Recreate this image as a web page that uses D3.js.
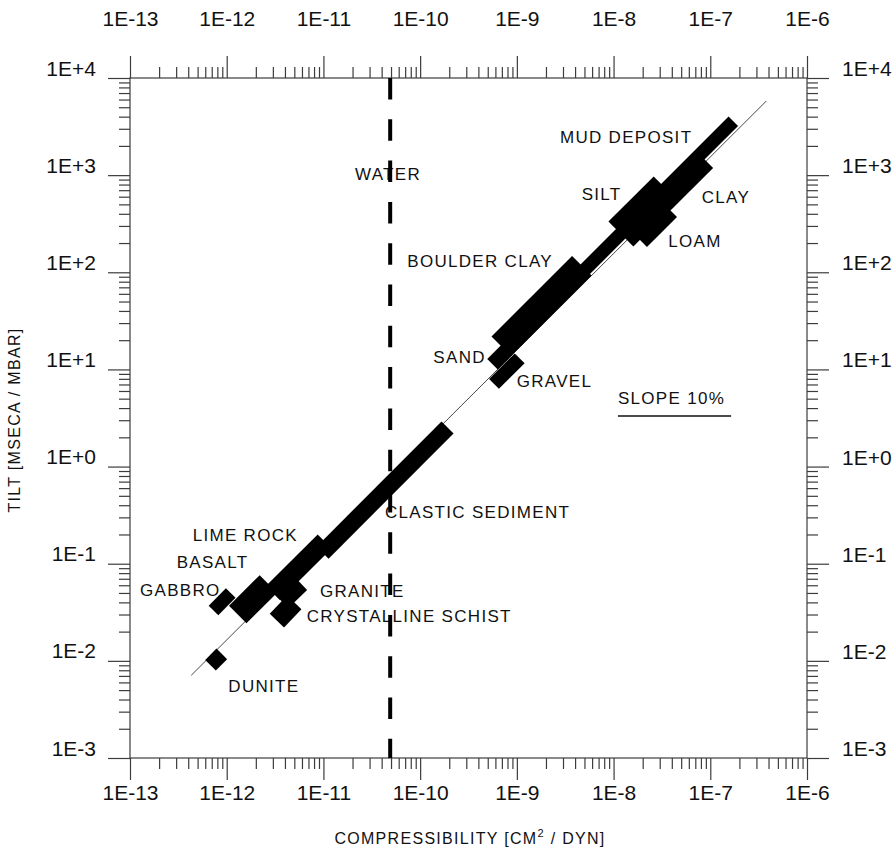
<!DOCTYPE html>
<html>
<head>
<meta charset="utf-8">
<script src="https://cdn.jsdelivr.net/npm/d3@7"></script>
<style>
  body { margin: 0; background: #fff; }
  text { font-family: "Liberation Sans", Arial, sans-serif; fill: #111; }
</style>
</head>
<body>
<div class="canvas"></div>
<script>
// bands: material, compressibility range (cm2/dyn) and tilt range (mseca/mbar) at both ends
const materials = ['DUNITE', 'GABBRO', 'BASALT', 'LIME ROCK', 'GRANITE', 'CRYSTALLINE SCHIST',
  'CLASTIC SEDIMENT', 'GRAVEL', 'SAND', 'BOULDER CLAY', 'MUD DEPOSIT', 'SILT', 'CLAY', 'LOAM'];
const compLow  = [6.8e-13, 7.3e-13, 1.3e-12, 3.0e-12, 3.7e-12, 3.3e-12, 9.8e-12, 5.8e-10, 5.6e-10, 6.9e-10, 1.28e-9, 1.19e-8, 2.0e-8, 1.81e-8];
const compHigh = [8.9e-13, 1.1e-12, 2.7e-12, 1.03e-11, 5.8e-12, 5.0e-12, 1.92e-10, 1.07e-9, 8.0e-10, 4.7e-9, 1.73e-7, 3.5e-8, 8.9e-8, 3.7e-8];
const tiltLow  = [9.0e-3, 3.3e-2, 3.0e-2, 5.0e-2, 4.1e-2, 2.6e-2, 0.130, 7.1, 11.3, 17.3, 27.2, 248, 324, 223];
const tiltHigh = [1.18e-2, 5.0e-2, 6.2e-2, 0.169, 6.3e-2, 4.0e-2, 2.53, 13.0, 16.1, 117, 3590, 720, 1420, 454];

// thin reference line (tilt proportional to compressibility)
const refComp = [4.3e-13, 3.8e-7];
const refTilt = [7.1e-3, 5.8e3];

// water compressibility (dashed line)
const waterComp = 4.9e-11;

const xTickLabels = ['1E-13', '1E-12', '1E-11', '1E-10', '1E-9', '1E-8', '1E-7', '1E-6'];
const yTickLabels = ['1E-3', '1E-2', '1E-1', '1E+0', '1E+1', '1E+2', '1E+3', '1E+4'];

// ---- layout / style ----
const W = 895, H = 852;
const L = 130, R = 807, T = 78, B = 758;

// band thickness in px
const bandWidth = {
  'DUNITE': 15, 'GABBRO': 13.5, 'BASALT': 24.7, 'LIME ROCK': 19.8, 'GRANITE': 19,
  'CRYSTALLINE SCHIST': 19.8, 'CLASTIC SEDIMENT': 17, 'GRAVEL': 14, 'SAND': 14.8,
  'BOULDER CLAY': 27.6, 'MUD DEPOSIT': 13.4, 'SILT': 35.4, 'CLAY': 21.9, 'LOAM': 24
};

// label anchors (left edge, baseline) in data units
const labelAnchor = {
  'WATER': [2.12e-11, 891],
  'MUD DEPOSIT': [2.79e-9, 2127],
  'SILT': [4.68e-9, 555],
  'CLAY': [8.15e-8, 513],
  'LOAM': [3.68e-8, 183],
  'BOULDER CLAY': [7.36e-11, 114],
  'SAND': [1.37e-10, 11.6],
  'GRAVEL': [9.96e-10, 6.64],
  'CLASTIC SEDIMENT': [4.33e-11, 0.2935],
  'LIME ROCK': [4.45e-13, 0.1725],
  'BASALT': [3.04e-13, 0.0897],
  'GABBRO': [1.27e-13, 0.0465],
  'GRANITE': [9.21e-12, 0.0451],
  'CRYSTALLINE SCHIST': [6.71e-12, 0.0253],
  'DUNITE': [1.04e-12, 4.81e-3],
  'SLOPE 10%': [1.11e-8, 4.41]
};

const axisColor = '#3c3c3c';

const svg = d3.select('.canvas')
  .append('svg')
  .attr('width', W)
  .attr('height', H);

const x = d3.scaleLog().domain([1e-13, 1e-6]).range([L, R]);
const y = d3.scaleLog().domain([1e-3, 1e4]).range([B, T]);

const xMajor = d3.range(-13, -5).map(e => +('1e' + e));
const yMajor = d3.range(-3, 5).map(e => +('1e' + e));
const minorsOf = (lo, hi) => {
  const out = [];
  for (let e = lo; e < hi; e++) for (let m = 2; m <= 9; m++) out.push(+(m + 'e' + e));
  return out;
};
const xMinor = minorsOf(-13, -6);
const yMinor = minorsOf(-3, 4);

// draws one side: minor ticks and major ticks with labels
function side(gen, scale, majors, minors, labels, tf, textPos) {
  const gMin = svg.append('g').attr('transform', tf)
    .call(gen(scale).tickValues(minors).tickSize(11).tickFormat(''));
  const gMaj = svg.append('g').attr('transform', tf)
    .call(gen(scale).tickValues(majors).tickSize(22).tickFormat((d, i) => labels[i]));
  [gMin, gMaj].forEach(g => {
    g.select('.domain').remove();
    g.selectAll('line').attr('stroke', axisColor).attr('stroke-width', 1.2);
  });
  gMaj.selectAll('text')
    .attr('font-size', 21)
    .attr('fill', '#111')
    .attr('font-family', '"Liberation Sans", Arial, sans-serif')
    .attr('dy', 0)
    .attr('x', textPos[0])
    .attr('y', textPos[1]);
}

side(d3.axisBottom, x, xMajor, xMinor, xTickLabels, `translate(0,${B})`, [0, 42]);
side(d3.axisTop, x, xMajor, xMinor, xTickLabels, `translate(0,${T})`, [0, -52]);
side(d3.axisLeft, y, yMajor, yMinor, yTickLabels, `translate(${L},0)`, [-34, -3]);
side(d3.axisRight, y, yMajor, yMinor, yTickLabels, `translate(${R},0)`, [35, -2.5]);

// frame
svg.append('rect')
  .attr('x', L).attr('y', T)
  .attr('width', R - L).attr('height', B - T)
  .attr('fill', 'none')
  .attr('stroke', axisColor)
  .attr('stroke-width', 1.2);

// reference line
svg.append('line')
  .attr('x1', x(refComp[0])).attr('y1', y(refTilt[0]))
  .attr('x2', x(refComp[1])).attr('y2', y(refTilt[1]))
  .attr('stroke', '#333')
  .attr('stroke-width', 0.9);

// material bands
svg.append('g')
  .selectAll('line')
  .data(d3.range(materials.length))
  .join('line')
  .attr('x1', i => x(compLow[i]))
  .attr('y1', i => y(tiltLow[i]))
  .attr('x2', i => x(compHigh[i]))
  .attr('y2', i => y(tiltHigh[i]))
  .attr('stroke', '#000')
  .attr('stroke-width', i => bandWidth[materials[i]])
  .attr('stroke-linecap', 'butt');

// labels
const labels = svg.append('g')
  .selectAll('text')
  .data(Object.keys(labelAnchor))
  .join('text')
  .attr('x', d => x(labelAnchor[d][0]))
  .attr('y', d => y(labelAnchor[d][1]))
  .attr('font-size', 17)
  .attr('letter-spacing', 1.3)
  .text(d => d);

// underline under SLOPE 10%
const sl = labels.filter(d => d === 'SLOPE 10%').node().getBBox();
svg.append('line')
  .attr('x1', sl.x).attr('x2', sl.x + sl.width + 6)
  .attr('y1', sl.y + sl.height + 8).attr('y2', sl.y + sl.height + 8)
  .attr('stroke', '#111')
  .attr('stroke-width', 1.5);

// water: dashed vertical line
svg.append('line')
  .attr('x1', x(waterComp)).attr('x2', x(waterComp))
  .attr('y1', y(1e4)).attr('y2', y(1e-3))
  .attr('stroke', '#000')
  .attr('stroke-width', 4)
  .attr('stroke-dasharray', '21.5 19.8');

// axis titles
svg.append('text')
  .attr('x', 470).attr('y', 844)
  .attr('text-anchor', 'middle')
  .attr('font-size', 16)
  .attr('letter-spacing', 1.3)
  .call(t => {
    t.append('tspan').text('COMPRESSIBILITY [CM');
    t.append('tspan').attr('font-size', 11).attr('dy', -7).text('2');
    t.append('tspan').attr('dy', 7).text(' / DYN]');
  });

svg.append('text')
  .attr('transform', 'translate(20,420) rotate(-90)')
  .attr('text-anchor', 'middle')
  .attr('font-size', 16)
  .attr('letter-spacing', 1.3)
  .text('TILT [MSECA / MBAR]');
</script>
</body>
</html>
